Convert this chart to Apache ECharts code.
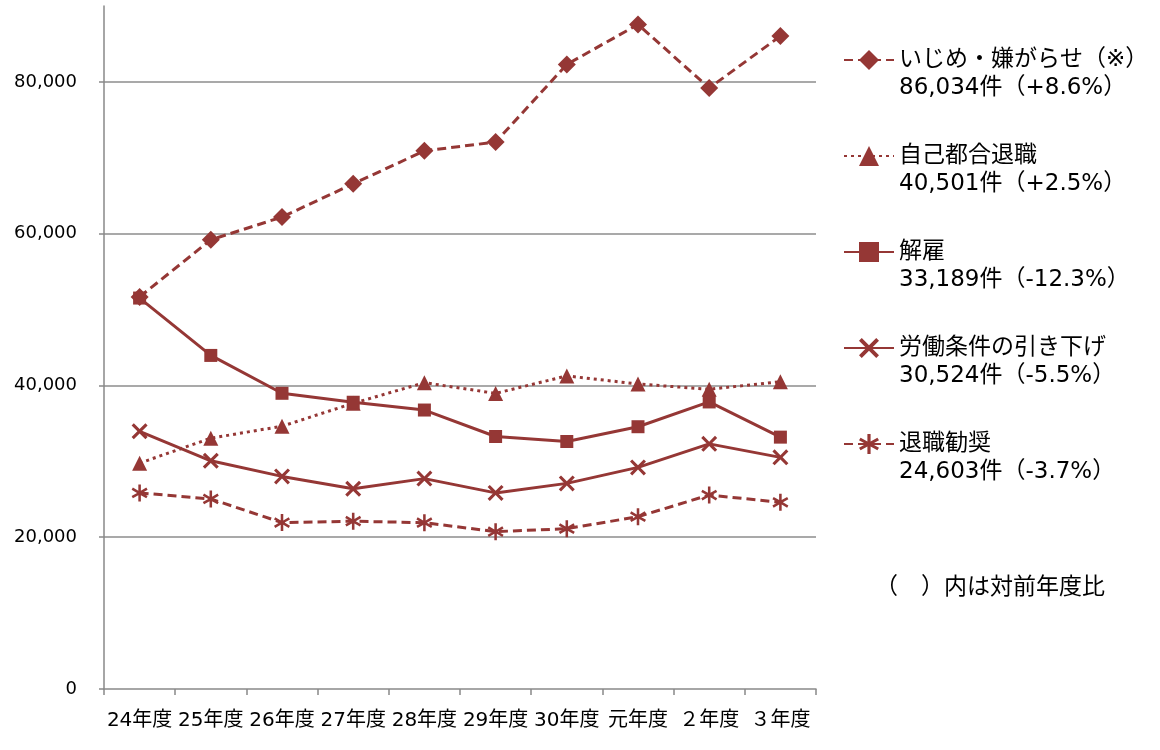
<!DOCTYPE html>
<html><head><meta charset="utf-8">
<script src="https://cdn.jsdelivr.net/npm/echarts@6/dist/echarts.min.js"></script>
<style>html,body{margin:0;padding:0;background:#fff}#c{width:1160px;height:750px}</style>
</head><body><div id="c"></div>
<script>
const categories = ['24年度','25年度','26年度','27年度','28年度','29年度','30年度','元年度','２年度','３年度'];
const seriesNames = ['いじめ・嫌がらせ（※）','自己都合退職','解雇','労働条件の引き下げ','退職勧奨'];
const ijime    = [51670,59197,62191,66566,70917,72067,82300,87570,79190,86034];
const jiko     = [29763,33049,34626,37648,40364,38954,41258,40189,39498,40501];
const kaiko    = [51515,43956,38966,37787,36760,33269,32614,34561,37826,33189];
const hikisage = [33955,30067,28015,26392,27723,25841,27095,29203,32301,30524];
const kanshou  = [25838,25041,21928,22110,21912,20736,21125,22703,25560,24603];
const yTicks   = [0,20000,40000,60000,80000];
const note = '（　）内は対前年度比';

const COLOR = '#953735';
const FONT = '"DejaVu Sans","Noto Sans CJK JP",sans-serif';

function starPath(n, startDeg, R, w) {
  const pts = [];
  for (let k = 0; k < n; k++) {
    const th = (startDeg + k * 360 / n) * Math.PI / 180;
    const dx = Math.cos(th), dy = Math.sin(th);
    const px = -dy, py = dx;
    pts.push([R*dx - w*px, R*dy - w*py]);
    pts.push([R*dx + w*px, R*dy + w*py]);
    const ta = th + Math.PI / n, r = w / Math.sin(Math.PI / n);
    pts.push([r*Math.cos(ta), r*Math.sin(ta)]);
  }
  return 'path://' + pts.map((p, i) => (i ? 'L' : 'M') + (10 + p[0]).toFixed(2) + ',' + (10 - p[1]).toFixed(2)).join(' ') + ' Z';
}
const X_SYM = starPath(4, 45, 10, 1.6);
const AST_SYM = starPath(6, 90, 10, 1.5);

const dataSets = [ijime, jiko, kaiko, hikisage, kanshou];
const subs = {};
seriesNames.forEach((n, i) => {
  const d = dataSets[i];
  const last = d[d.length - 1], prev = d[d.length - 2];
  const pct = (last / prev - 1) * 100;
  subs[n] = last.toLocaleString('en-US') + '件（' + (pct >= 0 ? '+' : '') + pct.toFixed(1) + '%）';
});

const styles = [
  {symbol: 'diamond', symbolSize: 18, type: [9, 5]},
  {symbol: 'triangle', symbolSize: 15, type: [3, 4]},
  {symbol: 'rect', symbolSize: 13, type: 'solid'},
  {symbol: X_SYM, symbolSize: 16, type: 'solid'},
  {symbol: AST_SYM, symbolSize: 17, type: [9, 5]}
];

const series = seriesNames.map((n, i) => ({
  name: n,
  type: 'line',
  data: dataSets[i],
  symbol: styles[i].symbol,
  symbolSize: styles[i].symbolSize,
  symbolKeepAspect: true,
  showAllSymbol: true,
  clip: false,
  lineStyle: {color: COLOR, width: 3, type: styles[i].type},
  itemStyle: {color: COLOR, opacity: 1},
  emphasis: {disabled: true},
  animation: false
}));

const chart = echarts.init(document.getElementById('c'));
chart.setOption({
  animation: false,
  backgroundColor: '#fff',
  grid: {left: 104, right: 344, top: 6, bottom: 61, containLabel: false},
  xAxis: {
    type: 'category',
    data: categories,
    boundaryGap: true,
    axisLine: {lineStyle: {color: '#898989', width: 1.5}},
    axisTick: {show: true, length: 6, lineStyle: {color: '#898989', width: 1.5}},
    axisLabel: {color: '#000', fontSize: 20, fontFamily: FONT, margin: 22, interval: 0}
  },
  yAxis: {
    type: 'value',
    min: 0, max: 90000, interval: 20000,
    axisLine: {show: true, lineStyle: {color: '#898989', width: 1.5}},
    axisTick: {show: true, length: 5, customValues: yTicks, lineStyle: {color: '#898989', width: 1.5}},
    axisLabel: {
      color: '#000', fontSize: 18, fontFamily: FONT, margin: 27, customValues: yTicks,
      formatter: v => (yTicks.indexOf(v) >= 0 ? v.toLocaleString('en-US') : '')
    },
    splitLine: {show: true, showMinLine: false, lineStyle: {color: '#8c8c8c', width: 1.5}}
  },
  legend: {
    orient: 'vertical',
    left: 838, top: 13,
    itemWidth: 50, itemHeight: 25, itemGap: 12,
    selectedMode: false,
    data: seriesNames,
    formatter: n => ' \n' + n + '\n' + subs[n],
    textStyle: {color: '#000', fontSize: 23, lineHeight: 28, fontFamily: FONT}
  },
  graphic: [{
    type: 'text', left: 875, top: 577,
    style: {text: note, fill: '#000', fontSize: 23, fontFamily: FONT}
  }],
  series: series
});
</script>
</body></html>
